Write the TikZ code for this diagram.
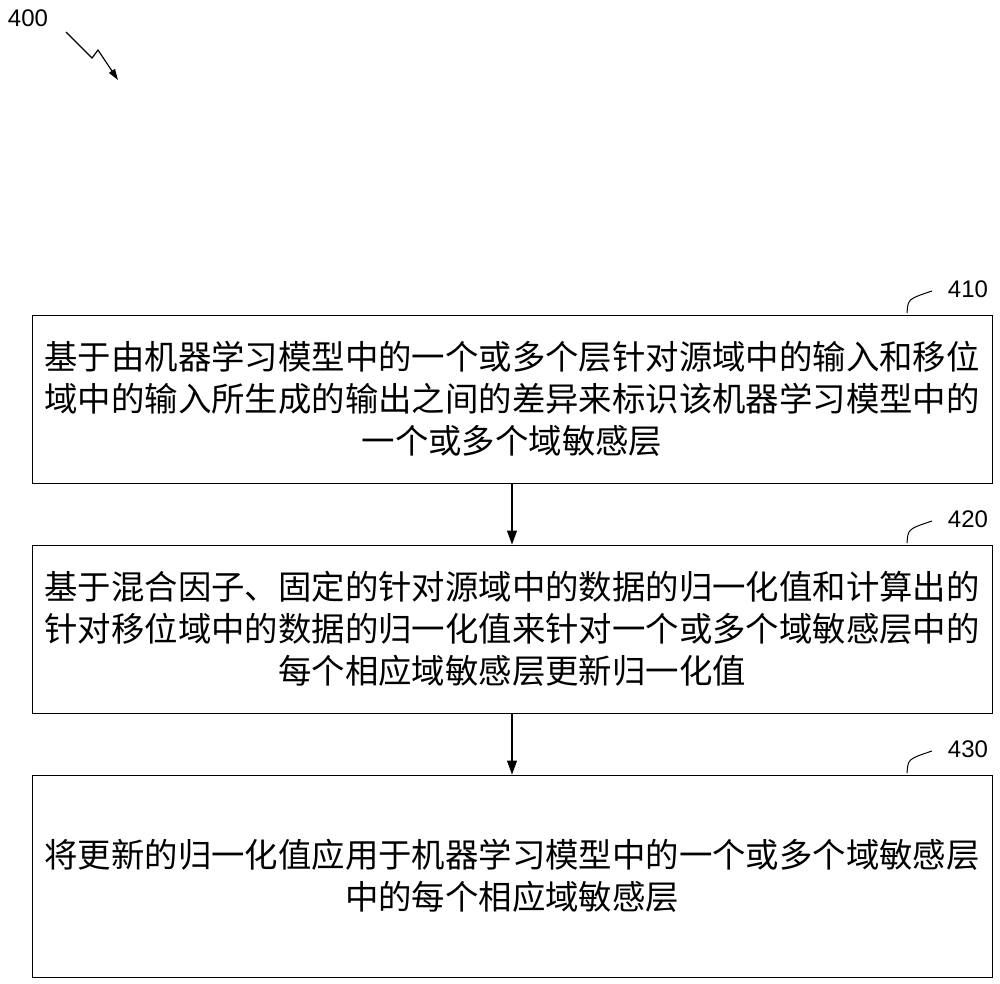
\documentclass[tikz,border=0pt]{standalone}
\usepackage{fontspec}
\setmainfont{Liberation Sans}
\newfontfamily\cjk{Noto Sans CJK SC}
\usetikzlibrary{arrows.meta}
\begin{document}
\begin{tikzpicture}[x=1pt,y=-1pt,
  boxst/.style={draw,line width=1pt,inner sep=0pt},
  txt/.style={align=center,font=\cjk\fontsize{33.4}{42}\selectfont},
  lbl/.style={font=\fontsize{24}{24}\selectfont,inner sep=0pt},
  arr/.style={line width=1.2pt,-{Triangle[length=14pt,width=10pt]}}]
\useasboundingbox (0,0) rectangle (1000,983);
\node[boxst,minimum width=960pt,minimum height=168pt] (b1) at (512,399) {};
\node[boxst,minimum width=960pt,minimum height=168pt] (b2) at (512,629) {};
\node[boxst,minimum width=960pt,minimum height=202pt] (b3) at (512,876) {};
\node[txt] (t1) at (512,399) {基于由机器学习模型中的一个或多个层针对源域中的输入和移位\\域中的输入所生成的输出之间的差异来标识该机器学习模型中的\\一个或多个域敏感层};
\node[txt] (t2) at (512,629) {基于混合因子、固定的针对源域中的数据的归一化值和计算出的\\针对移位域中的数据的归一化值来针对一个或多个域敏感层中的\\每个相应域敏感层更新归一化值};
\node[txt] (t3) at (512,876) {将更新的归一化值应用于机器学习模型中的一个或多个域敏感层\\中的每个相应域敏感层};
\draw[arr] (b1.south) -- (b2.north);
\draw[arr] (b2.south) -- (b3.north);
\node[lbl] (l1) at (968,289) {410};
\node[lbl] (l2) at (968,519) {420};
\node[lbl] (l3) at (968,749) {430};
\foreach \l/\y in {l1/305,l2/535,l3/765}{
  \coordinate (s\l) at (907,\y+8);
  \draw[line width=1pt] (s\l) .. controls (908,\y-6) .. (932,\y-14);
}
\node[lbl] (l0) at (28,18) {400};
\coordinate (z0) at (66,32);
\coordinate (z1) at (92,58);
\coordinate (z2) at (98,50);
\coordinate (z3) at (118,80);
\draw[line width=1.2pt,-{Triangle[length=11pt,width=7pt]}] (z0) -- (z1) -- (z2) -- (z3);
\end{tikzpicture}
\end{document}
